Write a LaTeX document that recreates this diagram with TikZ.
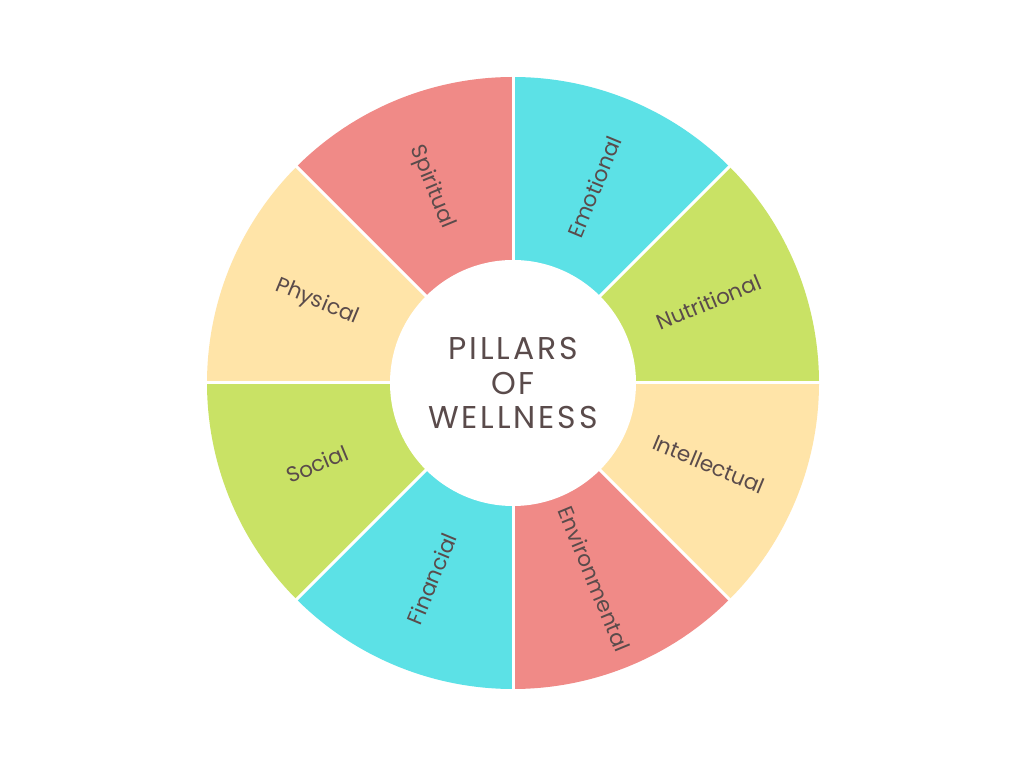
\documentclass[tikz,border=0pt]{standalone}
\usepackage{fontspec}
\setmainfont{Poppins}
\newfontfamily\spacedfont[LetterSpace=9]{Poppins}
\definecolor{salmonc}{HTML}{F08A87}
\definecolor{cyanc}{HTML}{5CE1E6}
\definecolor{greenc}{HTML}{C9E265}
\definecolor{yellowc}{HTML}{FFE4A8}
\definecolor{txtc}{HTML}{5A4B4B}
\tikzset{
  lab/.style={text=txtc, font=\fontsize{21.5}{24}\selectfont, inner sep=0pt},
  divider/.style={draw=white, line width=3pt},
}
\begin{document}
\begin{tikzpicture}[x=1pt,y=1pt]
\useasboundingbox (0,0) rectangle (1024,768);
\fill[white] (0,0) rectangle (1024,768);
\begin{scope}[shift={(513,385)}]
  \def\R{306}
  \foreach \a/\c in {90/salmonc,45/cyanc,0/greenc,-45/yellowc,-90/salmonc,-135/cyanc,180/greenc,135/yellowc}{
    \fill[\c] (0,0) -- (\a:\R) arc[start angle=\a, delta angle=45, radius=\R] -- cycle;
  }
  \foreach \a in {0,45,...,315}{
    \draw[divider] (0,0) -- (\a:\R+5);
  }
  \fill[white] (0,0) circle[radius=123];
  \node[lab, rotate=-67.5] (spiritual) at (112.5:212) {Spiritual};
  \node[lab, rotate=67.5] (emotional) at (67.5:212) {Emotional};
  \node[lab, rotate=22.5] (nutritional) at (22.5:212) {Nutritional};
  \node[lab, rotate=-22.5] (intellectual) at (-22.5:212) {Intellectual};
  \node[lab, rotate=-67.5] (environmental) at (-67.5:212) {Environmental};
  \node[lab, rotate=67.5] (financial) at (-112.5:212) {Financial};
  \node[lab, rotate=22.5] (social) at (202.5:212) {Social};
  \node[lab, rotate=-22.5] (physical) at (157.5:212) {Physical};
  \node[text=txtc, align=center, inner sep=0pt, font=\spacedfont\fontsize{31.5}{34.5}\selectfont] (title) at (0,0) {PILLARS\\OF\\WELLNESS};
\end{scope}
\end{tikzpicture}
\end{document}
